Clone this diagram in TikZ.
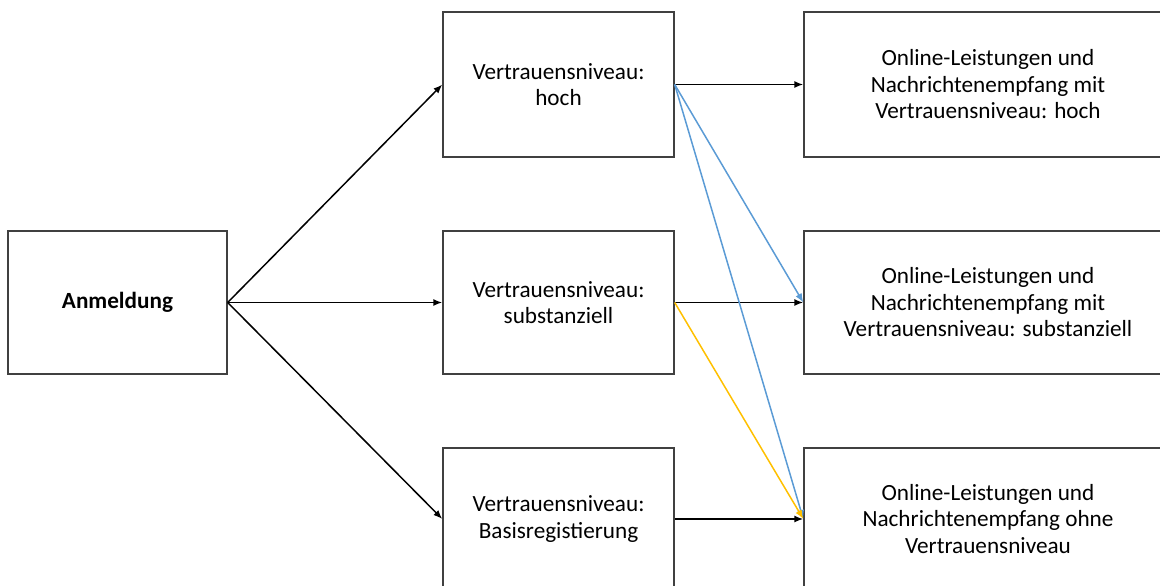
\documentclass[tikz,border=0pt]{standalone}
\usepackage{fontspec}
\setmainfont{Carlito}
\usetikzlibrary{arrows.meta}
\definecolor{boxline}{RGB}{64,64,64}
\definecolor{lineblue}{RGB}{91,155,213}
\definecolor{linegold}{RGB}{255,192,0}
\tikzset{
  box/.style={draw=boxline, line width=1.4pt, fill=white, align=center,
    inner sep=0pt, font=\fontsize{23.2}{26.5}\selectfont},
  link/.style={line width=1.5pt, -{Latex[length=9pt,width=7pt]}},
}
\begin{document}
\begin{tikzpicture}[x=1pt,y=-1pt]
  \useasboundingbox (0,0) rectangle (1160,586);
  \clip (0,0) rectangle (1160,586);
  % Draw boxes
  \node[box, minimum width=219pt, minimum height=143pt] (anm) at (117.5,302.5) {\textbf{Anmeldung}};
  \node[box, minimum width=231pt, minimum height=145pt] (hoch) at (558.5,84.5) {Vertrauensniveau:\\hoch};
  \node[box, minimum width=231pt, minimum height=143pt] (subst) at (558.5,302.5) {Vertrauensniveau:\\substanziell};
  \node[box, minimum width=231pt, minimum height=142pt] (basis) at (558.5,519) {Vertrauensniveau:\\Basisregistierung};
  \node[box, minimum width=368pt, minimum height=145pt] (oHoch) at (988,84.5) {Online-Leistungen und\\Nachrichtenempfang mit\\Vertrauensniveau: hoch};
  \node[box, minimum width=368pt, minimum height=143pt] (oSubst) at (988,302.5) {Online-Leistungen und\\Nachrichtenempfang mit\\Vertrauensniveau: substanziell};
  \node[box, minimum width=368pt, minimum height=142pt] (oOhne) at (988,519) {Online-Leistungen und\\Nachrichtenempfang ohne\\Vertrauensniveau};
  % Draw arrows from login
  \draw[link] (anm.east) -- (hoch.west);
  \draw[link] (anm.east) -- (subst.west);
  \draw[link] (anm.east) -- (basis.west);
  % Draw arrows to services
  \draw[link] (hoch.east) -- (oHoch.west);
  \draw[link] (subst.east) -- (oSubst.west);
  \draw[link] (basis.east) -- (oOhne.west);
  \draw[link, lineblue] (hoch.east) -- (oSubst.west);
  \draw[link, lineblue] (hoch.east) -- (oOhne.west);
  \draw[link, linegold] (subst.east) -- (oOhne.west);
\end{tikzpicture}
\end{document}
